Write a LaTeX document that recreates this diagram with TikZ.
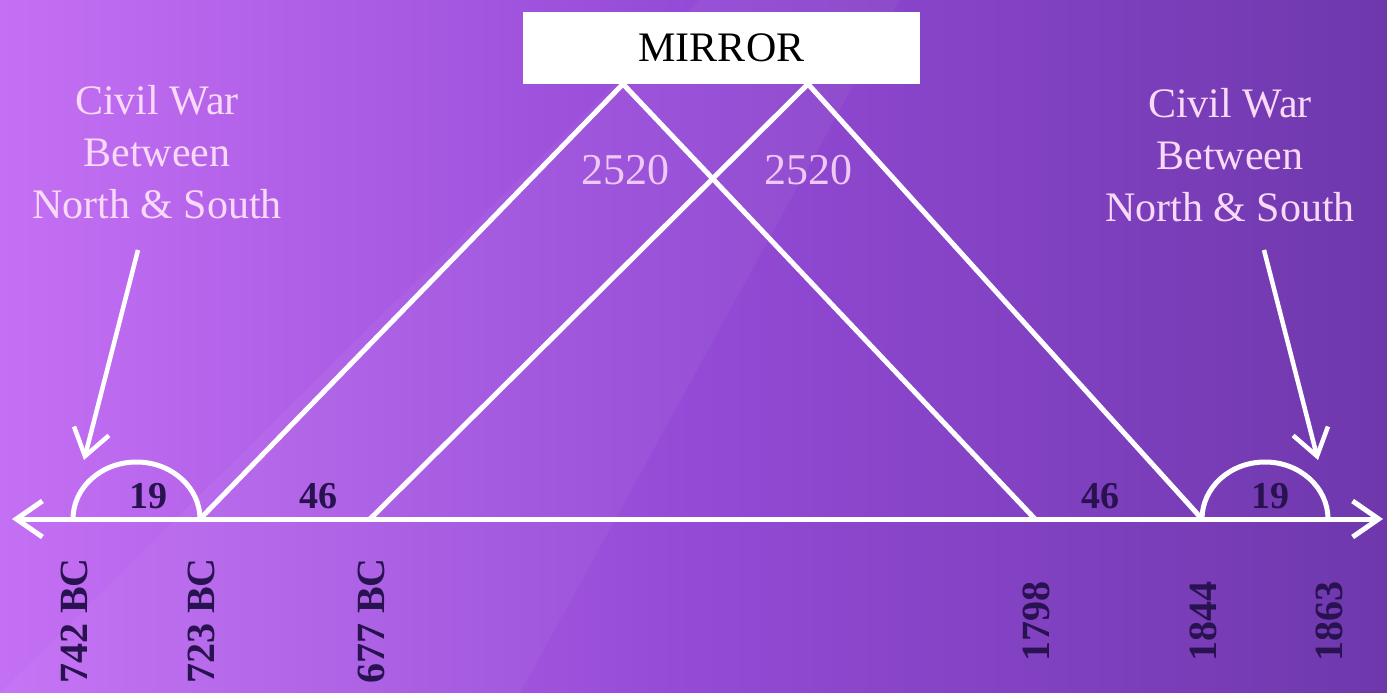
\documentclass[tikz,border=0pt]{standalone}
\usepackage{fontspec}
\setmainfont{Liberation Serif}
\usetikzlibrary{arrows.meta}
\definecolor{bgL}{RGB}{196,112,244}
\definecolor{bgM}{RGB}{148,74,214}
\definecolor{bgR}{RGB}{110,56,172}
\definecolor{darktxt}{RGB}{40,18,80}
\definecolor{pinktxt}{RGB}{248,218,248}
\definecolor{numtxt}{RGB}{240,200,245}
\tikzset{
  wline/.style={draw=white, line width=5pt},
  axisline/.style={wline, {Straight Barb[length=26pt,width=36pt,line width=5pt]}-{Straight Barb[length=26pt,width=36pt,line width=5pt]}},
  pointer/.style={draw=white, line width=4.5pt, -{Straight Barb[length=26pt,width=36pt,line width=4.5pt]}},
  datelbl/.style={rotate=90, text=darktxt, font=\fontsize{40}{40}\selectfont\bfseries, inner sep=0pt},
  spanlbl/.style={text=darktxt, font=\fontsize{38}{38}\selectfont\bfseries, inner sep=0pt},
  bignum/.style={text=numtxt, font=\fontsize{44}{44}\selectfont, inner sep=0pt},
  civil/.style={text=pinktxt, align=center, font=\fontsize{42}{52}\selectfont, inner sep=0pt},
  mirrorbox/.style={fill=white, draw=none, minimum width=397pt, minimum height=72pt, inner sep=0pt, text=black, font=\fontsize{42}{42}\selectfont}
}
\begin{document}
\begin{tikzpicture}[x=1pt,y=-1pt]
\useasboundingbox (0,0) rectangle (1387,693);
\shade[left color=bgL, right color=bgR, middle color=bgM] (0,0) rectangle (1387,693);
\fill[white, opacity=0.04] (0,693) -- (520,693) -- (900,0) -- (700,0) -- cycle;

% mirror
\node[mirrorbox] (mirror) at (721.5,48) {MIRROR};
\coordinate (apA) at (623,84);
\coordinate (apB) at (808,84);

% axis
\coordinate (axL) at (12,519);
\coordinate (axR) at (1383,519);
\coordinate (t742) at (73,519);
\coordinate (t723) at (200,519);
\coordinate (t677) at (370,519);
\coordinate (t1798) at (1035,519);
\coordinate (t1844) at (1202,519);
\coordinate (t1863) at (1328,519);

% triangles
\draw[wline, line join=round] (t723) -- (apA) -- (t1798);
\draw[wline, line join=round] (t677) -- (apB) -- (t1844);

% arcs
\draw[wline] (t742) arc[start angle=180, end angle=360, x radius=63.5, y radius=57];
\draw[wline] (t1844) arc[start angle=180, end angle=360, x radius=63, y radius=57];

\draw[axisline] (axL) -- (axR);

% span labels
\node[spanlbl] (s19a) at (148,496) {19};
\node[spanlbl] (s46a) at (318,496) {46};
\node[spanlbl] (s46b) at (1100,496) {46};
\node[spanlbl] (s19b) at (1270,496) {19};

\node[bignum] (n1) at (625,170) {2520};
\node[bignum] (n2) at (808,170) {2520};

% dates
\node[datelbl] (d742) at (74,621) {742 BC};
\node[datelbl] (d723) at (201,621) {723 BC};
\node[datelbl] (d677) at (371,621) {677 BC};
\node[datelbl] (d1798) at (1036,621) {1798};
\node[datelbl] (d1844) at (1203,621) {1844};
\node[datelbl] (d1863) at (1329,621) {1863};

% civil war
\node[civil] (civL) at (157,152) {Civil War\\Between\\North \& South};
\node[civil] (civR) at (1230,155) {Civil War\\Between\\North \& South};
\coordinate (pL1) at (138,250);
\coordinate (pL2) at (84,460);
\coordinate (pR1) at (1264,250);
\coordinate (pR2) at (1318,460);
\draw[pointer] (pL1) -- (pL2);
\draw[pointer] (pR1) -- (pR2);
\end{tikzpicture}
\end{document}
